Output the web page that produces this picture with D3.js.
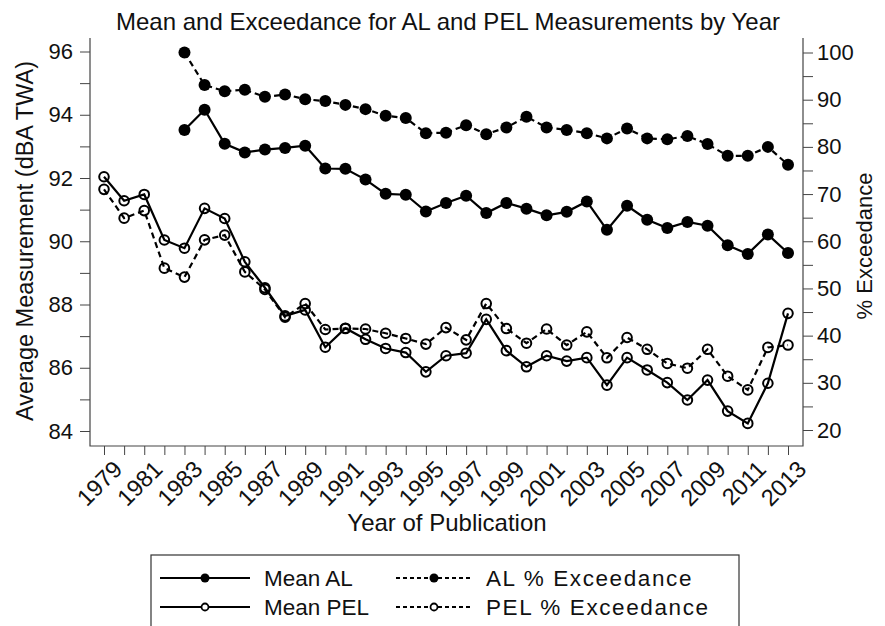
<!DOCTYPE html>
<html>
<head>
<meta charset="utf-8">
<script src="https://cdn.jsdelivr.net/npm/d3@7"></script>
<style>
  body { margin: 0; background: #fff; }
  text { font-family: Arial, "Liberation Sans", sans-serif; fill: #111; }
</style>
</head>
<body>
<div id="chart"></div>
<script>
// years and series
const years = [1979, 1980, 1981, 1982, 1983, 1984, 1985, 1986, 1987, 1988, 1989, 1990,
  1991, 1992, 1993, 1994, 1995, 1996, 1997, 1998, 1999, 2000, 2001, 2002, 2003,
  2004, 2005, 2006, 2007, 2008, 2009, 2010, 2011, 2012, 2013];
const alYears = years.slice(4); // AL series start in 1983

const meanAL = [93.52, 94.16, 93.08, 92.81, 92.90, 92.95, 93.02, 92.30, 92.29, 91.95,
  91.50, 91.47, 90.94, 91.21, 91.44, 90.89, 91.21, 91.03, 90.82, 90.93, 91.26, 90.36,
  91.12, 90.68, 90.42, 90.61, 90.49, 89.87, 89.60, 90.21, 89.63];
const alExceed = [100, 93.1, 91.8, 92.1, 90.6, 91.1, 90.1, 89.7, 88.9, 88.0, 86.6, 86.1,
  82.9, 83.0, 84.6, 82.7, 84.1, 86.4, 84.1, 83.6, 82.9, 81.8, 83.9, 81.8, 81.6, 82.3,
  80.6, 78.1, 78.1, 80.0, 76.2];
const meanPEL = [92.04, 91.28, 91.48, 90.04, 89.78, 91.04, 90.72, 89.35, 88.53, 87.64,
  87.83, 86.65, 87.25, 86.90, 86.61, 86.48, 85.87, 86.38, 86.46, 87.53, 86.54, 86.03,
  86.38, 86.21, 86.32, 85.45, 86.32, 85.93, 85.53, 84.98, 85.61, 84.63, 84.24, 85.51, 87.72];
const pelExceed = [71.0, 64.9, 66.5, 54.3, 52.4, 60.3, 61.3, 53.5, 49.8, 43.9, 46.8, 41.3,
  41.5, 41.4, 40.5, 39.4, 38.2, 41.7, 39.1, 46.8, 41.5, 38.4, 41.4, 38.0, 40.8, 35.3,
  39.6, 37.1, 34.1, 33.1, 37.1, 31.4, 28.5, 37.5, 38.0];

const leftTicks = [84, 86, 88, 90, 92, 94, 96];
const rightTicks = [20, 30, 40, 50, 60, 70, 80, 90, 100];
const yearLabels = years.filter(y => y % 2 === 1);

const width = 885, height = 626;
const plot = { left: 90, right: 803, top: 38, bottom: 446 };

const svg = d3.select("#chart").append("svg")
  .attr("width", width)
  .attr("height", height);

const x = d3.scaleLinear().domain([1979, 2013]).range([104, 788]);
const yL = d3.scaleLinear().domain([84, 96]).range([431, 51.5]);
const yR = d3.scaleLinear().domain([20, 100]).range([430, 52.5]);

const axisColor = "#444";

// title
svg.append("text")
  .attr("x", 448).attr("y", 30)
  .attr("text-anchor", "middle")
  .style("font-size", "24px")
  .text("Mean and Exceedance for AL and PEL Measurements by Year");

// axis lines (no top border)
svg.append("path")
  .attr("d", `M${plot.left},${plot.top}V${plot.bottom}H${plot.right}V${plot.top}`)
  .attr("fill", "none").attr("stroke", axisColor).attr("stroke-width", 1.2);

// left axis
const gL = svg.append("g").attr("transform", `translate(${plot.left},0)`)
  .call(d3.axisLeft(yL).tickValues(leftTicks).tickSize(10).tickPadding(7).tickFormat(d3.format("d")));
gL.select(".domain").remove();
gL.selectAll("line").attr("stroke", axisColor);
gL.selectAll("text").style("font-size", "22px").attr("fill", "#111");
svg.append("g").attr("transform", `translate(${plot.left},0)`)
  .call(d3.axisLeft(yL).tickValues(d3.range(85, 96, 2)).tickSize(10).tickFormat(""))
  .call(g => g.select(".domain").remove())
  .selectAll("line").attr("stroke", axisColor);

// right axis
const gR = svg.append("g").attr("transform", `translate(${plot.right},0)`)
  .call(d3.axisRight(yR).tickValues(rightTicks).tickSize(10).tickPadding(4).tickFormat(d3.format("d")));
gR.select(".domain").remove();
gR.selectAll("line").attr("stroke", axisColor);
gR.selectAll("text").style("font-size", "22px").attr("fill", "#111");
svg.append("g").attr("transform", `translate(${plot.right},0)`)
  .call(d3.axisRight(yR).tickValues(d3.range(25, 100, 10)).tickSize(10).tickFormat(""))
  .call(g => g.select(".domain").remove())
  .selectAll("line").attr("stroke", axisColor);

// bottom axis: tick every year, label odd years
const gB = svg.append("g").attr("transform", `translate(0,${plot.bottom})`)
  .call(d3.axisBottom(x).tickValues(years).tickSize(9).tickFormat(""));
gB.select(".domain").remove();
gB.selectAll("line").attr("stroke", axisColor);
gB.selectAll(".lbl")
  .data(yearLabels)
  .enter().append("text")
  .attr("class", "lbl")
  .attr("transform", d => `translate(${x(d) + 8},${13}) rotate(-45)`)
  .attr("text-anchor", "end")
  .attr("dy", "0.7em")
  .style("font-size", "23.5px")
  .text(d => d);

// axis titles
svg.append("text")
  .attr("transform", `translate(33,${(plot.top + plot.bottom) / 2 - 1}) rotate(-90)`)
  .attr("text-anchor", "middle")
  .style("font-size", "23.5px")
  .text("Average Measurement (dBA TWA)");
svg.append("text")
  .attr("transform", `translate(872,${(plot.top + plot.bottom) / 2 + 4}) rotate(-90)`)
  .attr("text-anchor", "middle")
  .style("font-size", "22px")
  .text("% Exceedance");
svg.append("text")
  .attr("x", 447).attr("y", 531)
  .attr("text-anchor", "middle")
  .style("font-size", "24px")
  .text("Year of Publication");

// series
const series = [
  { name: "Mean AL", xs: alYears, ys: meanAL, y: yL, dash: null, filled: true },
  { name: "AL % Exceedance", xs: alYears, ys: alExceed, y: yR, dash: "6,4", filled: true },
  { name: "Mean PEL", xs: years, ys: meanPEL, y: yL, dash: null, filled: false },
  { name: "PEL % Exceedance", xs: years, ys: pelExceed, y: yR, dash: "6,4", filled: false }
];

series.forEach(s => {
  const pts = s.xs.map((yr, i) => [yr, s.ys[i]]);
  const line = d3.line().x(d => x(d[0])).y(d => s.y(d[1]));
  svg.append("path")
    .datum(pts)
    .attr("d", line)
    .attr("fill", "none")
    .attr("stroke", "#000")
    .attr("stroke-width", 2.2)
    .attr("stroke-dasharray", s.dash);
  svg.append("g").selectAll("circle")
    .data(pts)
    .enter().append("circle")
    .attr("cx", d => x(d[0]))
    .attr("cy", d => s.y(d[1]))
    .attr("r", s.filled ? 6 : 4.8)
    .attr("fill", s.filled ? "#000" : "none")
    .attr("stroke", "#000")
    .attr("stroke-width", s.filled ? 0 : 2);
});

// legend
const legend = svg.append("g");
legend.append("rect")
  .attr("x", 151).attr("y", 555)
  .attr("width", 588).attr("height", 80)
  .attr("fill", "#fff").attr("stroke", "#333").attr("stroke-width", 1.2);

const legendItems = [
  { s: series[0], col: 0, row: 0 },
  { s: series[2], col: 0, row: 1 },
  { s: series[1], col: 1, row: 0 },
  { s: series[3], col: 1, row: 1 }
];
const colX = [[160, 250, 264], [396, 472, 486]];
const rowY = [578, 607];

legendItems.forEach(it => {
  const [x0, x1, tx] = colX[it.col];
  const yy = rowY[it.row];
  legend.append("line")
    .attr("x1", x0).attr("x2", x1).attr("y1", yy).attr("y2", yy)
    .attr("stroke", "#000").attr("stroke-width", 2)
    .attr("stroke-dasharray", it.s.dash ? "4,3" : null);
  legend.append("circle")
    .attr("cx", (x0 + x1) / 2).attr("cy", yy)
    .attr("r", it.s.filled ? 4.5 : 3.5)
    .attr("fill", it.s.filled ? "#000" : "#fff")
    .attr("stroke", "#000").attr("stroke-width", it.s.filled ? 0 : 1.8);
  legend.append("text")
    .attr("x", tx).attr("y", yy)
    .attr("dy", "0.35em")
    .style("font-size", "22.5px")
    .style("letter-spacing", it.s.dash ? "1.6px" : "0px")
    .text(it.s.name);
});
</script>
</body>
</html>
